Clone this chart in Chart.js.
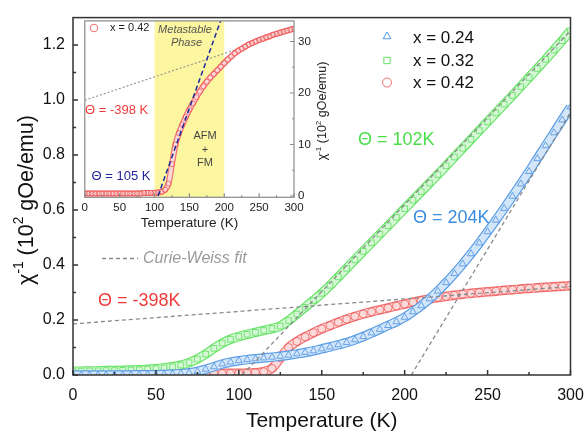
<!DOCTYPE html>
<html>
<head>
<meta charset="utf-8">
<script src="https://cdn.jsdelivr.net/npm/chart.js@4.4.0/dist/chart.umd.min.js"></script>
<style>
  html, body { margin: 0; padding: 0; background: #fff; }
  #wrap  { position: relative; width: 587px; height: 431px; }
  #main  { position: absolute; left: 0; top: 0; }
  #inset { position: absolute; left: 80px; top: 10px; }
</style>
</head>
<body>
<div id="wrap">
  <canvas id="main" width="587" height="431"></canvas>
  <canvas id="inset" width="260" height="225"></canvas>
</div>
<script>
// inverse susceptibility vs temperature, three compositions

const temps = [0, 5, 10, 15, 20, 25, 30, 35, 40, 45, 50, 55, 60, 65, 70, 75, 80, 85, 90, 95,
               100, 105, 110, 115, 120, 125, 130, 135, 140, 145, 150, 155, 160, 165, 170, 175,
               180, 185, 190, 195, 200, 205, 210, 215, 220, 225, 230, 235, 240, 245, 250, 255,
               260, 265, 270, 275, 280, 285, 290, 295, 300];

// x = 0.24
const blueVals = [0, 0, 0, 0, 0, 0, 0, 0,
                  0.001, 0.001, 0.001, 0.002,
                  0.003, 0.005, 0.008, 0.013, 0.021, 0.030, 0.040, 0.047,
                  0.052, 0.056, 0.059, 0.062, 0.065, 0.068, 0.072, 0.077,
                  0.082, 0.088, 0.095, 0.102, 0.110, 0.118, 0.128, 0.140,
                  0.153, 0.166, 0.180, 0.194, 0.210, 0.230, 0.252, 0.277,
                  0.305, 0.336, 0.369, 0.404, 0.441, 0.480, 0.521, 0.563,
                  0.606, 0.650, 0.695, 0.740, 0.787, 0.834, 0.881, 0.928, 0.975];

// x = 0.32
const greenVals = [0.014, 0.014, 0.015, 0.015, 0.016, 0.016, 0.017, 0.018,
                   0.019, 0.021, 0.023, 0.026, 0.030, 0.036, 0.045, 0.058,
                   0.076, 0.097, 0.116, 0.130, 0.140, 0.148, 0.155, 0.162,
                   0.169, 0.178, 0.198, 0.222, 0.246, 0.271, 0.297, 0.326,
                   0.357, 0.388, 0.419, 0.450, 0.481, 0.512, 0.543, 0.574,
                   0.605, 0.636, 0.667, 0.698, 0.729, 0.761, 0.793, 0.825,
                   0.857, 0.889, 0.921, 0.953, 0.985, 1.017, 1.049, 1.082,
                   1.115, 1.148, 1.182, 1.216, 1.252];

// x = 0.42 (also the inset curve)
const redVals = [0.005, 0.005, 0.005, 0.005, 0.005, 0.005, 0.005, 0.005,
                 0.005, 0.005, 0.005, 0.005, 0.005, 0.005, 0.005, 0.005,
                 0.005, 0.006, 0.006, 0.006,
                 0.006, 0.007, 0.008, 0.012, 0.024, 0.062, 0.100, 0.122,
                 0.139, 0.154, 0.168, 0.180, 0.192, 0.203, 0.213, 0.222,
                 0.230, 0.237, 0.244, 0.251, 0.258, 0.265, 0.271, 0.277,
                 0.282, 0.286, 0.290, 0.294, 0.297, 0.300, 0.303, 0.305,
                 0.308, 0.310, 0.313, 0.315, 0.317, 0.319, 0.321, 0.323, 0.325];

// Curie-Weiss fits, [T, value] end points
const fit102    = [[102, 0], [300, 1.252]];
const fit204    = [[204, 0], [300, 0.955]];
const fitNeg398 = [[0, 0.186], [300, 0.322]];
const fit105    = [[105, 0], [200, 0.36]];

const phaseBand = [100, 200];

const xTicks      = [0, 50, 100, 150, 200, 250, 300];
const xMinor      = [25, 75, 125, 175, 225, 275];
const yTicks      = [0, 0.2, 0.4, 0.6, 0.8, 1.0, 1.2];
const yMinor      = [0.1, 0.3, 0.5, 0.7, 0.9, 1.1];
const insetYTicks = [0, 0.1, 0.2, 0.3];
const insetYMinor = [0.05, 0.15, 0.25];

const FONT = "'Liberation Sans', Arial, sans-serif";
Chart.defaults.font.family = FONT;
Chart.defaults.color = "#111";

const pts   = (xs, ys) => xs.map((t, i) => ({ x: t, y: ys[i] }));
const pairs = p => p.map(([x, y]) => ({ x, y }));

// a band of hollow markers: coloured edge stroke, pale core, markers on top
function series(vals, style, edge, core, ptCol, r, w) {
    const base = {
        data: pts(temps, vals),
        showLine: true,
        cubicInterpolationMode: "monotone",
        clip: 0,
    };
    return [
        { ...base, borderColor: core, borderWidth: w - 2.4,
          pointStyle: style, pointRadius: r, pointBorderColor: ptCol,
          pointBackgroundColor: "rgba(255,255,255,0)", pointBorderWidth: 0.8 },
        { ...base, borderColor: edge, borderWidth: w, pointRadius: 0 },
    ];
}

function fitLine(p, col, dash, lw) {
    return {
        data: pairs(p),
        borderColor: col,
        borderWidth: lw,
        borderDash: dash,
        pointRadius: 0,
        fill: false,
        clip: 0,
    };
}

// x axis: fixed height, no extra side padding for end labels
const fixX = h => s => { s.height = h; s.paddingLeft = 0; s.paddingRight = 0; };

// text with superscripts, centred on (x, y)
function richText(ctx, parts, x, y, size, color, rot) {
    ctx.save();
    ctx.translate(x, y);
    if (rot) ctx.rotate(rot);
    ctx.fillStyle    = color;
    ctx.textBaseline = "middle";
    ctx.textAlign    = "left";
    const fontOf = sup => (sup ? size * 0.64 : size) + "px " + FONT;
    const widths = parts.map(([t, sup]) => { ctx.font = fontOf(sup); return ctx.measureText(t).width; });
    let cx = -widths.reduce((s, w) => s + w, 0) / 2;
    parts.forEach(([t, sup], i) => {
        ctx.font = fontOf(sup);
        ctx.fillText(t, cx, sup ? -size * 0.36 : 0);
        cx += widths[i];
    });
    ctx.restore();
}

function label(ctx, text, x, y, font, color, align = "left") {
    ctx.font = font;
    ctx.fillStyle = color;
    ctx.textAlign = align;
    ctx.textBaseline = "middle";
    ctx.fillText(text, x, y);
}

function marker(ctx, style, col, r, x, y) {
    ctx.strokeStyle = col;
    ctx.fillStyle = "rgba(255,255,255,0)";
    ctx.lineWidth = 1;
    Chart.helpers.drawPoint(ctx, { pointStyle: style, radius: r, borderWidth: 1 }, x, y);
}

// frame + inward tick marks
const frameTicks = {
    id: "frameTicks",
    afterDatasetsDraw(chart, args, o) {
        const { ctx, chartArea: a } = chart;
        const xs = chart.scales.x, ys = chart.scales.y;
        ctx.save();
        ctx.strokeStyle = o.color;
        ctx.lineWidth   = o.width;
        ctx.strokeRect(a.left, a.top, a.right - a.left, a.bottom - a.top);
        ctx.beginPath();
        const xt = (vals, len) => vals.forEach(v => {
            const p = xs.getPixelForValue(v);
            ctx.moveTo(p, a.bottom); ctx.lineTo(p, a.bottom - len);
        });
        const edge = o.ySide === "right" ? a.right : a.left;
        const dir  = o.ySide === "right" ? -1 : 1;
        const yt = (vals, len) => vals.forEach(v => {
            const p = ys.getPixelForValue(v);
            ctx.moveTo(edge, p); ctx.lineTo(edge + dir * len, p);
        });
        xt(o.xMajor, o.major); xt(o.xMinor, o.minor);
        yt(o.yMajor, o.major); yt(o.yMinor, o.minor);
        ctx.stroke();
        ctx.restore();
    }
};

const mainNotes = {
    id: "mainNotes",
    afterDraw(chart) {
        const ctx = chart.ctx;
        ctx.save();
        // legend
        const leg = [["triangle", "#4f97e4", "x = 0.24", 36.5, 38.5],
                     ["rect",     "#66df66", "x = 0.32", 60.5, 61],
                     ["circle",   "#f06a6a", "x = 0.42", 82.5, 83.5]];
        leg.forEach(([st, col, txt, my, ty]) => {
            marker(ctx, st, col, 4.5, 387, my);
            label(ctx, txt, 413, ty, "17px " + FONT, "#111");
        });
        label(ctx, "\u0398 = 102K",  358, 140,   "18px " + FONT, "#48df48");
        label(ctx, "\u0398 = 204K",  413, 218,   "18px " + FONT, "#3b8de0");
        label(ctx, "\u0398 = -398K", 98,  301.5, "18px " + FONT, "#f03a3a");
        // Curie-Weiss key
        ctx.strokeStyle = "#8a8a8a";
        ctx.lineWidth = 1.3;
        ctx.setLineDash([4, 3]);
        ctx.beginPath(); ctx.moveTo(102, 258.5); ctx.lineTo(138, 258.5); ctx.stroke();
        ctx.setLineDash([]);
        label(ctx, "Curie-Weiss fit", 143, 258.5, "italic 16px " + FONT, "#9a9a9a");
        // y title
        richText(ctx, [["\u03c7"], ["-1", true], [" (10"], ["2", true], [" gOe/emu)"]],
                 27, 200, 21.5, "#111", -Math.PI / 2);
        ctx.restore();
    }
};

new Chart(document.getElementById("main"), {
    type: "line",
    data: {
        datasets: [
            fitLine(fit102,    "#8a8a8a", [4, 3], 1.3),
            fitLine(fit204,    "#8a8a8a", [4, 3], 1.3),
            fitLine(fitNeg398, "#8a8a8a", [4, 3], 1.3),
            ...series(blueVals,  "triangle", "#5a9de6", "#d3e5f8", "#4b93e2", 4, 9.5),
            ...series(greenVals, "rect",     "#66e466", "#d6f8d6", "#5ee05e", 4, 9.5),
            ...series(redVals,   "circle",   "#f07070", "#fcdada", "#f05a5a", 4, 9.5),
        ]
    },
    options: {
        responsive: false,
        animation: false,
        devicePixelRatio: 1,
        layout: { padding: { left: 0, top: 14, right: 16.5, bottom: 0 } },
        plugins: {
            legend: { display: false },
            tooltip: { enabled: false },
            frameTicks: { color: "#333", width: 1.5, major: 5, minor: 3, ySide: "left",
                          xMajor: xTicks, xMinor: xMinor, yMajor: yTicks, yMinor: yMinor },
        },
        scales: {
            x: {
                type: "linear", min: 0, max: 300,
                afterBuildTicks: s => { s.ticks = xTicks.map(v => ({ value: v })); },
                afterFit: fixX(56),
                grid: { display: false, drawTicks: false },
                border: { display: false },
                ticks: { padding: 11, font: { size: 16 }, color: "#111" },
                title: { display: true, text: "Temperature (K)", color: "#111",
                         font: { size: 21, lineHeight: 1 }, padding: { top: 0, bottom: -1 } },
            },
            y: {
                type: "linear", min: 0, max: 1.3,
                afterBuildTicks: s => { s.ticks = yTicks.map(v => ({ value: v })); },
                afterFit: s => { s.width = 73; },
                grid: { display: false, drawTicks: false },
                border: { display: false },
                ticks: { padding: 8, font: { size: 16 }, color: "#111", callback: v => v.toFixed(1) },
            }
        }
    },
    plugins: [frameTicks, mainNotes]
});

// ---------------- inset ----------------

const insetDecor = {
    id: "insetDecor",
    beforeDraw(chart) {
        const { ctx, chartArea: a, width, height } = chart;
        ctx.save();
        ctx.fillStyle = "#fff";
        ctx.fillRect(a.left, a.top, width - a.left, height - a.top);
        ctx.restore();
    },
    beforeDatasetsDraw(chart) {
        const { ctx, chartArea: a } = chart;
        const xs = chart.scales.x;
        const x0 = xs.getPixelForValue(phaseBand[0]);
        const x1 = xs.getPixelForValue(phaseBand[1]);
        ctx.save();
        ctx.fillStyle = "#fcf6a0";
        ctx.fillRect(x0, a.top, x1 - x0, a.bottom - a.top);
        ctx.restore();
    },
    afterDraw(chart) {
        const ctx = chart.ctx;
        ctx.save();
        marker(ctx, "circle", "#f06a6a", 3.8, 14, 18);
        label(ctx, "x = 0.42", 30, 18, "11px " + FONT, "#222");
        label(ctx, "Metastable", 105, 19.5, "italic 11px " + FONT, "#555", "center");
        label(ctx, "Phase", 106.5, 33, "italic 11px " + FONT, "#555", "center");
        label(ctx, "\u0398 = -398 K", 5, 100, "13px " + FONT, "#f03a3a");
        label(ctx, "\u0398 = 105 K", 11.5, 166.5, "13px " + FONT, "#23239a");
        label(ctx, "AFM", 125, 126, "11px " + FONT, "#444", "center");
        label(ctx, "+",   125, 139.5, "11px " + FONT, "#444", "center");
        label(ctx, "FM",  125, 153, "11px " + FONT, "#444", "center");
        richText(ctx, [["\u03c7"], ["-1", true], [" (10"], ["2", true], [" gOe/emu)"]],
                 243, 101, 12.5, "#222", -Math.PI / 2);
        ctx.restore();
    }
};

new Chart(document.getElementById("inset"), {
    type: "line",
    data: {
        datasets: [
            fitLine(fit105, "#1c2a9c", [5, 3], 1.5),
            ...series(redVals, "circle", "#f07070", "#fcdada", "#f05a5a", 2.6, 6),
            fitLine(fitNeg398, "#909090", [2, 2], 1.1),
        ]
    },
    options: {
        responsive: false,
        animation: false,
        devicePixelRatio: 1,
        layout: { padding: { left: 2.7, top: 6, right: 0, bottom: 0 } },
        plugins: {
            legend: { display: false },
            tooltip: { enabled: false },
            frameTicks: { color: "#8a8a8a", width: 1.2, major: 4, minor: 2, ySide: "right",
                          xMajor: xTicks, xMinor: xMinor, yMajor: insetYTicks, yMinor: insetYMinor },
        },
        scales: {
            x: {
                type: "linear", min: 0, max: 300,
                afterBuildTicks: s => { s.ticks = xTicks.map(v => ({ value: v })); },
                afterFit: fixX(37.7),
                grid: { display: false, drawTicks: false },
                border: { display: false },
                ticks: { padding: 3.5, font: { size: 11.5 }, color: "#222" },
                title: { display: true, text: "Temperature (K)", color: "#222",
                         font: { size: 13.5, lineHeight: 1 }, padding: { top: 0, bottom: 5 } },
            },
            y: {
                type: "linear", position: "right", min: -0.0025, max: 0.34,
                afterBuildTicks: s => { s.ticks = insetYTicks.map(v => ({ value: v })); },
                afterFit: s => { s.width = 46; },
                grid: { display: false, drawTicks: false },
                border: { display: false },
                ticks: { padding: 4, font: { size: 11.5 }, color: "#222",
                         callback: v => String(Math.round(v * 100)) },
            }
        }
    },
    plugins: [frameTicks, insetDecor]
});
</script>
</body>
</html>
